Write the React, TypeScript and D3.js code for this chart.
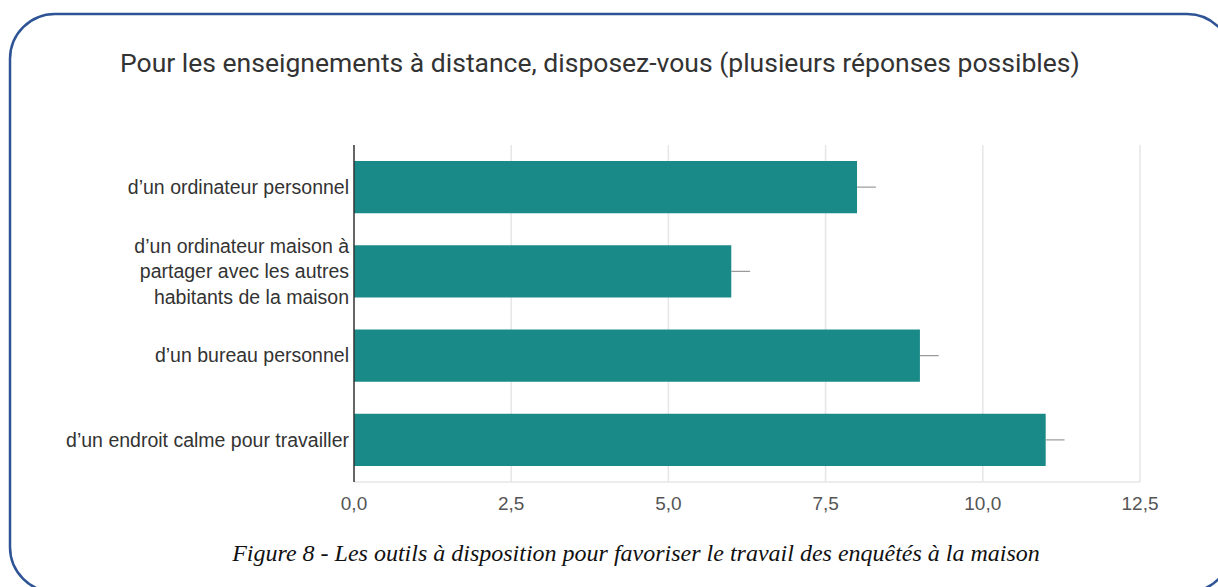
import { useEffect, useRef } from 'react';
import * as d3 from 'd3';

const categories: string[][] = [
  ['d\u2019un ordinateur personnel'],
  ['d\u2019un ordinateur maison à', 'partager avec les autres', 'habitants de la maison'],
  ['d\u2019un bureau personnel'],
  ['d\u2019un endroit calme pour travailler'],
];
const values = [8, 6, 9, 11];
const errors = [0.3, 0.3, 0.3, 0.3];
const xTicks = [0, 2.5, 5, 7.5, 10, 12.5];

const title = 'Pour les enseignements à distance, disposez-vous (plusieurs réponses possibles)';
const caption = 'Figure 8 - Les outils à disposition pour favoriser le travail des enquêtés à la maison';

export default function App() {
  const svgRef = useRef<SVGSVGElement>(null);

  useEffect(() => {
    const svg = d3.select(svgRef.current);
    svg.selectAll('*').remove();

    const W = 1218;
    const H = 587;
    svg.attr('width', W).attr('height', H).attr('viewBox', `0 0 ${W} ${H}`);

    // frame
    svg
      .append('rect')
      .attr('x', 10)
      .attr('y', 14)
      .attr('width', 1222)
      .attr('height', 578)
      .attr('rx', 45)
      .attr('fill', 'white')
      .attr('stroke', '#2f5496')
      .attr('stroke-width', 2.5);

    // title
    svg
      .append('text')
      .attr('x', 120)
      .attr('y', 72)
      .style('font-family', 'Roboto, "Open Sans", sans-serif')
      .style('font-size', '26.5px')
      .attr('fill', '#333')
      .text(title);

    const margin = { left: 354, top: 145, right: 1140, bottom: 482 };
    const x = d3.scaleLinear().domain([0, 12.5]).range([margin.left, margin.right]);
    const y = d3
      .scaleBand<number>()
      .domain(d3.range(values.length))
      .range([margin.top, margin.bottom])
      .paddingInner(0.38)
      .paddingOuter(0.19);

    const g = svg.append('g');

    // grid
    g.selectAll('.grid')
      .data(xTicks.slice(1))
      .enter()
      .append('line')
      .attr('x1', (d) => x(d))
      .attr('x2', (d) => x(d))
      .attr('y1', margin.top)
      .attr('y2', margin.bottom)
      .attr('stroke', '#e6e6e6')
      .attr('stroke-width', 1.5);

    g.append('line')
      .attr('x1', margin.left)
      .attr('x2', margin.right)
      .attr('y1', margin.bottom)
      .attr('y2', margin.bottom)
      .attr('stroke', '#e6e6e6')
      .attr('stroke-width', 1.5);

    // bars
    g.selectAll('.bar')
      .data(values)
      .enter()
      .append('rect')
      .attr('x', x(0))
      .attr('y', (_d, i) => y(i)!)
      .attr('width', (d) => x(d) - x(0))
      .attr('height', y.bandwidth())
      .attr('fill', '#1a8a88');

    // error whiskers
    g.selectAll('.err')
      .data(values)
      .enter()
      .append('line')
      .attr('x1', (d) => x(d))
      .attr('x2', (d, i) => x(d + errors[i]))
      .attr('y1', (_d, i) => y(i)! + y.bandwidth() / 2)
      .attr('y2', (_d, i) => y(i)! + y.bandwidth() / 2)
      .attr('stroke', '#999')
      .attr('stroke-width', 1.2);

    // axis line
    g.append('line')
      .attr('x1', margin.left)
      .attr('x2', margin.left)
      .attr('y1', margin.top)
      .attr('y2', margin.bottom)
      .attr('stroke', '#333')
      .attr('stroke-width', 1.5);

    // y labels
    categories.forEach((lines, i) => {
      const cy = y(i)! + y.bandwidth() / 2;
      const lh = 25.5;
      const t = g
        .append('text')
        .attr('text-anchor', 'end')
        .style('font-family', '"Liberation Sans", Arial, sans-serif')
        .style('font-size', '19.5px')
        .attr('fill', '#333');
      lines.forEach((line, j) => {
        t.append('tspan')
          .attr('x', margin.left - 5)
          .attr('y', cy + (j - (lines.length - 1) / 2) * lh)
          .attr('dy', '0.35em')
          .text(line);
      });
    });

    // x tick labels
    g.selectAll('.xt')
      .data(xTicks)
      .enter()
      .append('text')
      .attr('x', (d) => x(d))
      .attr('y', 503)
      .attr('dy', '0.35em')
      .attr('text-anchor', 'middle')
      .style('font-family', '"Liberation Sans", Arial, sans-serif')
      .style('font-size', '19px')
      .attr('fill', '#555')
      .text((d) => d3.format('.1f')(d).replace('.', ','));

    // caption
    svg
      .append('text')
      .attr('x', 636)
      .attr('y', 561)
      .attr('text-anchor', 'middle')
      .style('font-family', '"Liberation Serif", "Times New Roman", serif')
      .style('font-style', 'italic')
      .style('font-size', '24px')
      .attr('fill', '#111')
      .text(caption);
  }, []);

  return (
    <div style={{ position: 'absolute', left: 0, top: 0 }}>
      <svg ref={svgRef} style={{ display: 'block' }}></svg>
    </div>
  );
}
